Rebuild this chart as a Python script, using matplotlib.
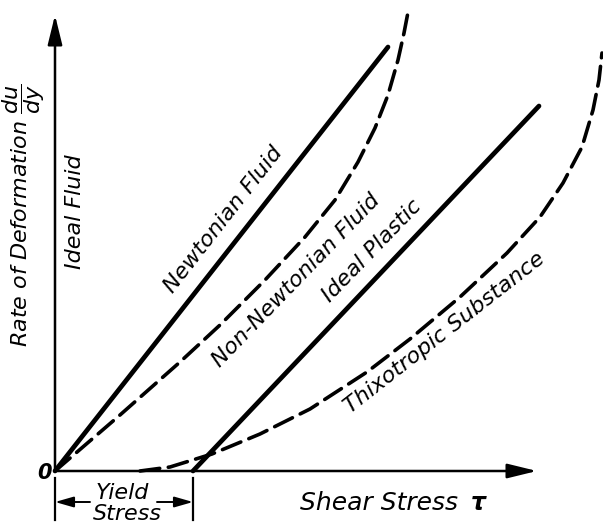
import matplotlib
matplotlib.use("Agg")
import matplotlib.pyplot as plt

plt.rcParams['font.family'] = ['DejaVu Sans']
plt.rcParams['font.style'] = 'italic'
plt.rcParams['mathtext.fontset'] = 'dejavusans'

# chart units: 1 unit of stress / rate, origin at (0, 0)
newton_x = [0.0, 3.33]
newton_y = [0.0, 4.24]

non_newton_x = [0.0, 0.65, 1.25, 1.65, 2.10, 2.50, 2.80, 3.03, 3.20, 3.33, 3.43, 3.49, 3.54]
non_newton_y = [0.0, 0.56, 1.09, 1.46, 1.91, 2.34, 2.71, 3.09, 3.43, 3.76, 4.11, 4.38, 4.64]

yield_stress = 1.38
plastic_x = [yield_stress, 4.84]
plastic_y = [0.0, 3.65]

thixo_x = [0.85, 1.15, 1.57, 2.05, 2.55, 3.12, 3.55, 4.05, 4.52, 4.85, 5.08, 5.27, 5.38, 5.44, 5.47]
thixo_y = [0.0, 0.04, 0.17, 0.37, 0.62, 0.99, 1.32, 1.74, 2.18, 2.54, 2.88, 3.24, 3.61, 3.91, 4.18]

x_axis_end = 4.82
y_axis_end = 4.56

fig = plt.figure(figsize=(6.03, 5.26), dpi=100)
ax = fig.add_axes([0, 0, 1, 1])
ax.set_xlim(-0.55, 5.48)
ax.set_ylim(-0.55, 4.71)
ax.axis('off')

# axes with arrow heads
arrow = dict(arrowstyle='-|>,head_length=0.9,head_width=0.22', lw=1.8, color='k',
             shrinkA=0, shrinkB=0, mutation_scale=20)
ax.annotate('', xy=(x_axis_end, 0), xytext=(0, 0), arrowprops=arrow)
ax.annotate('', xy=(0, y_axis_end), xytext=(0, 0), arrowprops=arrow)

# curves
ax.plot(newton_x, newton_y, color='k', lw=3.4, solid_capstyle='round')
ax.plot(plastic_x, plastic_y, color='k', lw=3.4, solid_capstyle='round')
ax.plot(non_newton_x, non_newton_y, color='k', lw=2.6, dashes=(5.5, 2.4),
        dash_capstyle='round')
ax.plot(thixo_x, thixo_y, color='k', lw=2.6, dashes=(5.5, 2.4),
        dash_capstyle='round')

# yield stress dimension
for xv in [0, yield_stress]:
    ax.plot([xv, xv], [-0.07, -0.49], color='k', lw=1.6)
small = dict(arrowstyle='-|>,head_length=0.7,head_width=0.2', lw=1.4, color='k',
             shrinkA=0, shrinkB=0, mutation_scale=16)
ax.annotate('', xy=(0, -0.31), xytext=(0.35, -0.31), arrowprops=small)
ax.annotate('', xy=(yield_stress, -0.31), xytext=(1.02, -0.31), arrowprops=small)
ax.text(0.67, -0.22, 'Yield', fontsize=16, ha='center', va='center')
ax.text(0.72, -0.43, 'Stress', fontsize=16, ha='center', va='center')

# labels
ax.text(-0.10, -0.02, '0', fontsize=15, weight='bold', ha='center', va='center')
ax.text(3.24, -0.32, 'Shear Stress', fontsize=18, ha='center', va='center')
ax.text(4.23, -0.32, 'τ', fontsize=17, weight='bold', ha='center', va='center')
ax.text(-0.31, 2.56, r'Rate of Deformation $\dfrac{du}{dy}$', fontsize=16,
        rotation=90, ha='center', va='center')
ax.text(0.20, 2.59, 'Ideal Fluid', fontsize=16, rotation=90, ha='center', va='center')
ax.text(1.68, 2.51, 'Newtonian Fluid', fontsize=16, rotation=52,
        ha='center', va='center', rotation_mode='anchor')
ax.text(2.41, 1.91, 'Non-Newtonian Fluid', fontsize=16, rotation=46,
        ha='center', va='center', rotation_mode='anchor')
ax.text(3.17, 2.20, 'Ideal Plastic', fontsize=16, rotation=46,
        ha='center', va='center', rotation_mode='anchor')
ax.text(3.90, 1.38, 'Thixotropic Substance', fontsize=16, rotation=38,
        ha='center', va='center', rotation_mode='anchor')

fig.savefig('out.png', dpi=100)
